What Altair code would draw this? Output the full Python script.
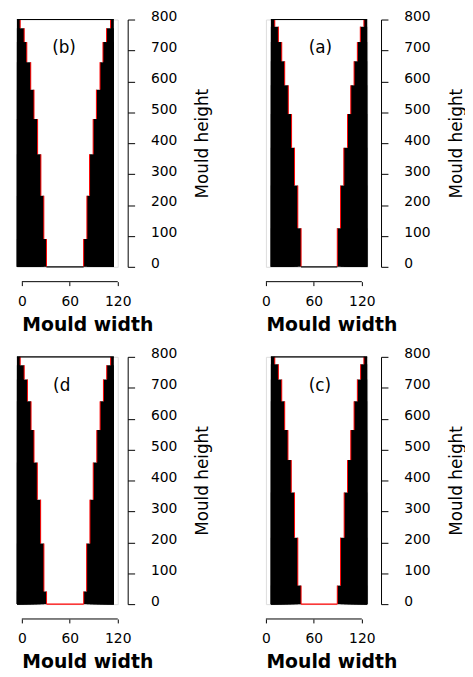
import altair as alt
import pandas as pd

# ---------------- data ----------------
panel_names = ["(b)", "(a)", "(d", "(c)"]

# step boundaries (mould height), bottom -> top
y_b = [0, 90, 230, 364, 478, 573, 662, 727, 772, 800]
y_a = [0, 125, 263, 385, 494, 587, 665, 727, 777, 800]
y_d = [0, 41, 196, 338, 458, 563, 656, 727, 773, 800]
y_c = [0, 60, 215, 361, 466, 563, 656, 727, 776, 800]

# inner wall positions (mould width) for each step, bottom -> top
left_b = [30.8, 27.5, 23.8, 19.7, 15.2, 11.1, 6.2, 2.9, -2.1]
right_b = [77.3, 81.4, 84.7, 89.2, 93.3, 97.8, 101.5, 106.0, 111.0]
left_a = [44.0, 39.9, 35.8, 32.1, 28.0, 23.5, 19.8, 15.6, 11.1]
right_a = [89.3, 93.4, 97.5, 102.1, 106.2, 110.3, 114.4, 118.1, 122.6]
left_d = [30.9, 27.6, 23.5, 19.3, 15.2, 11.5, 7.0, 2.9, -2.1]
right_d = [77.4, 81.1, 85.2, 89.3, 93.8, 97.9, 102.1, 106.2, 111.1]
left_c = [44.0, 39.9, 35.8, 31.7, 27.6, 23.5, 19.8, 15.6, 11.1]
right_c = [89.3, 93.4, 97.9, 102.1, 106.2, 110.3, 114.4, 118.5, 122.6]

# outer extent of the mould (x range of the plotted walls)
outer_b = [-6.2, 115.1]
outer_a = [6.2, 126.7]
outer_d = [-6.2, 115.1]
outer_c = [6.2, 126.7]

# bottom line colours
bottom_colors = ["black", "black", "red", "red"]

# panel label positions
label_x = [37.9, 53.5, 39.1, 53.5]
label_y = [707, 707, 707, 707]

x_ticks = [0, 60, 120]
y_ticks = [0, 100, 200, 300, 400, 500, 600, 700, 800]

K = 98 / 121.3      # pixels per width unit
H = 250
FONT = "DejaVu Sans"


def make_panel(name, ys, left, right, outer, bcol, lx, ly):
    n = len(left)
    df = pd.DataFrame({
        "y0": ys[:-1], "y1": ys[1:], "left": left, "right": right,
        "xmin": [outer[0]] * n, "xmax": [outer[1]] * n, "base": [0] * n,
    })
    dmin = min(outer[0], x_ticks[0])
    dmax = max(outer[1], x_ticks[-1])
    W = (dmax - dmin) * K
    y_off = 14 - (dmax - outer[1]) * K
    xs = alt.Scale(domain=[dmin, dmax], nice=False, zero=False)
    ysc = alt.Scale(domain=[0, 800], nice=False, zero=False)
    title_x = (0 - dmin) * K

    xaxis = alt.Axis(values=x_ticks, offset=15, domain=False, tickSize=4,
                     tickColor="black", labelPadding=9, labelFlush=False,
                     labelOverlap=False, grid=False, title="Mould width",
                     titleFontSize=19, titleFontWeight="bold", titleX=title_x,
                     titleAlign="left", titlePadding=7, labelFontSize=14,
                     labelFont=FONT, titleFont=FONT, labelColor="black",
                     titleColor="black")
    yaxis = alt.Axis(orient="right", values=y_ticks, offset=y_off, tickSize=7,
                     tickColor="black", domainColor="black", labelPadding=16,
                     labelAlign="left", labelBaseline="middle", labelOffset=-3,
                     labelFlush=False, labelOverlap=False, grid=False,
                     title="Mould height", titleAngle=270, titleFontSize=17,
                     titleFontWeight="normal", titleX=76, titleY=H / 2,
                     titleAlign="center", titleBaseline="middle",
                     labelFontSize=14, labelFont=FONT, titleFont=FONT,
                     labelColor="black", titleColor="black")

    def X(f):
        return alt.X(f, type="quantitative", scale=xs, axis=xaxis)

    def Y(f):
        return alt.Y(f, type="quantitative", scale=ysc, axis=yaxis)

    base = alt.Chart(df)
    # walls: each step block runs down to the floor so blocks overlap (no seams)
    lw = base.mark_rect(color="black").encode(
        x=X("xmin"), x2="left", y=Y("base"), y2="y1")
    rw = base.mark_rect(color="black").encode(
        x=X("right"), x2="xmax", y=Y("base"), y2="y1")
    rl = base.mark_rule(color="red", strokeWidth=1).encode(
        x=X("left"), y=Y("y0"), y2="y1")
    rr = base.mark_rule(color="red", strokeWidth=1).encode(
        x=X("right"), y=Y("y0"), y2="y1")

    top_df = pd.DataFrame({"a": [outer[0]], "b": [outer[1]], "y": [800]})
    top = alt.Chart(top_df).mark_rule(color="black", strokeWidth=1.2).encode(
        x=X("a"), x2="b", y=Y("y"))
    bot_df = pd.DataFrame({"a": [left[0]], "b": [right[0]], "y": [0]})
    bot = alt.Chart(bot_df).mark_rule(color=bcol, strokeWidth=1.2).encode(
        x=X("a"), x2="b", y=Y("y"))
    ax_df = pd.DataFrame({"a": [x_ticks[0]], "b": [x_ticks[-1]]})
    axline = alt.Chart(ax_df).mark_rule(color="black", strokeWidth=1).encode(
        x=X("a"), x2="b", y=alt.value(H + 15))
    lab_df = pd.DataFrame({"x": [lx], "y": [ly], "t": [name]})
    lab = alt.Chart(lab_df).mark_text(font=FONT, fontSize=17, align="left",
                                      baseline="middle", color="black").encode(
        x=X("x"), y=Y("y"), text="t:N")

    return alt.layer(lw, rw, rl, rr, top, bot, axline, lab).properties(
        width=W, height=H)


panels = [
    make_panel(panel_names[0], y_b, left_b, right_b, outer_b, bottom_colors[0], label_x[0], label_y[0]),
    make_panel(panel_names[1], y_a, left_a, right_a, outer_a, bottom_colors[1], label_x[1], label_y[1]),
    make_panel(panel_names[2], y_d, left_d, right_d, outer_d, bottom_colors[2], label_x[2], label_y[2]),
    make_panel(panel_names[3], y_c, left_c, right_c, outer_c, bottom_colors[3], label_x[3], label_y[3]),
]

# column gap: from right edge of left-column plot area to left edge of right-column one
col_gap = (266.7 - 15) - (120 - (-6.2)) * K

chart = alt.concat(*panels, columns=2, spacing={"row": 91, "column": col_gap},
                   bounds="flush").properties(
    padding={"left": 7, "top": -3, "right": 0, "bottom": 0},
    background="white",
).configure_view(strokeWidth=0).configure(font=FONT)

chart.save("out.html", embed_options={"renderer": "svg", "actions": False})
